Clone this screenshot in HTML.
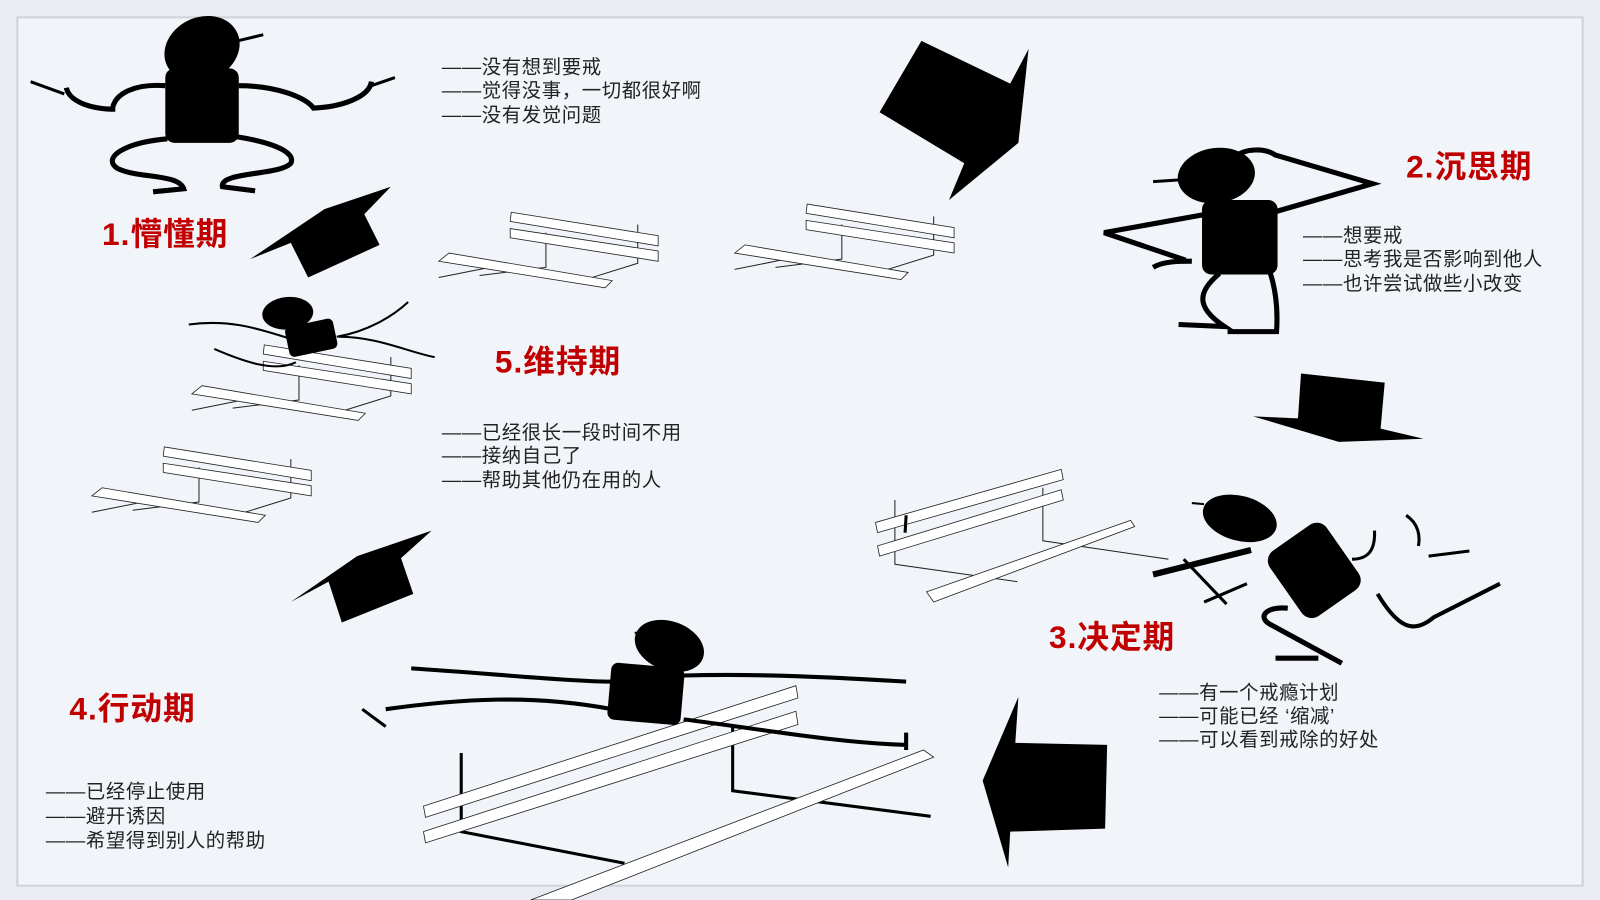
<!DOCTYPE html>
<html><head><meta charset="utf-8"><style>
html,body{margin:0;padding:0;width:1600px;height:900px;overflow:hidden;background:#e9edf3}
svg{display:block}
text{font-family:"Liberation Sans","Noto Sans CJK SC",sans-serif}
.t{font-size:19px;fill:#222;letter-spacing:0.6px}
.h{font-size:31px;font-weight:bold;fill:#c00000;letter-spacing:1px}
.b{fill:#fff;stroke:#222;stroke-width:0.8}
.l{stroke:#222;stroke-width:1;fill:none}
.k{stroke:#000;fill:none;stroke-linecap:butt}
</style></head><body>
<svg width="1600" height="900" viewBox="0 0 1568 882" preserveAspectRatio="none">
<rect x="0" y="0" width="1568" height="882" fill="#e9edf3"/>
<rect x="17" y="17" width="1534" height="851" fill="#f1f4f9" stroke="#cfd3da" stroke-width="2"/>

<!-- Figure 1 -->
<ellipse cx="198" cy="48" rx="38" ry="31" transform="rotate(-25 198 48)"/>
<line x1="233" y1="40" x2="258" y2="34" class="k" stroke-width="3"/>
<rect x="162" y="67" width="72" height="73" rx="9"/>
<path class="k" stroke-width="3" d="M30,80 L63,92"/>
<path class="k" stroke-width="5" d="M65,86 C68,100 90,107 113,107 M110,108 C112,90 135,82 162,84"/>
<path class="k" stroke-width="5" d="M234,84 C270,84 300,95 308,107 M306,106 C335,105 362,95 364,80"/>
<path class="k" stroke-width="3" d="M364,84 L387,76"/>
<path class="k" stroke-width="5" d="M164,136 C120,140 100,155 115,165 C135,175 175,170 180,185 L150,188"/>
<path class="k" stroke-width="5" d="M232,134 C270,140 290,150 285,160 C275,172 215,168 218,183 L250,187"/>

<text class="t" x="433" y="72">——没有想到要戒</text>
<text class="t" x="433" y="95">——觉得没事，一切都很好啊</text>
<text class="t" x="433" y="119">——没有发觉问题</text>
<text class="h" x="100" y="240">1.懵懂期</text>

<!-- hats / arrows -->
<polygon points="245,254 318,205 383,183 357,210 372,240 302,272 285,238"/>
<polygon points="862,110 903,40 990,82 1008,48 998,140 930,196 945,160"/>
<polygon points="1228,408 1272,410 1275,366 1357,375 1353,420 1395,430 1312,433"/>
<polygon points="285,590 350,545 423,520 393,547 405,582 335,610 322,570"/>
<polygon points="963,765 998,683 995,728 1085,730 1083,812 990,815 988,850"/>

<!-- Bench A -->
<g id="bA">
<path class="l" d="M625,220 L625,258 L580,272 M535,228 L535,262 L470,270 M430,272 L480,262"/>
<polygon class="b" points="501,208 645,231 645,241 500,217"/>
<polygon class="b" points="500,224 645,246 645,256 500,233"/>
<polygon class="b" points="440,248 600,275 593,282 430,256"/>
</g>
<use href="#bA" transform="translate(290,-8)"/>
<use href="#bA" transform="translate(-242,130)"/>
<use href="#bA" transform="translate(-340,230)"/>

<!-- Bench E -->
<path class="l" d="M877,490 L877,553 L997,570" stroke-width="2"/>
<path class="l" d="M1022,478 L1022,530 L1145,548" stroke-width="2"/>
<polygon class="b" points="858,512 1040,460 1042,470 860,522"/>
<polygon class="b" points="860,535 1040,480 1042,490 862,545"/>
<polygon class="b" points="908,580 1108,510 1112,516 915,590"/>
<line x1="888" y1="505" x2="887" y2="522" class="k" stroke-width="3"/>

<!-- Bench F -->
<path class="k" stroke-width="3" d="M452,738 L452,815 L612,846 M718,712 L718,775 L912,800"/>
<polygon class="b" points="415,790 780,672 782,684 417,801"/>
<polygon class="b" points="415,815 780,697 782,710 417,826"/>
<polygon class="b" points="520,882 905,735 915,742 560,882"/>

<!-- Figure 2 -->
<ellipse cx="1192" cy="172" rx="38" ry="27" transform="rotate(-8 1192 172)"/>
<line x1="1130" y1="178" x2="1160" y2="176" class="k" stroke-width="3"/>
<path class="k" stroke-width="5" d="M1210,154 C1220,145 1240,145 1250,152 L1345,180 L1248,208"/>
<rect x="1178" y="196" width="74" height="73" rx="9"/>
<path class="k" stroke-width="5" d="M1182,210 L1082,228 L1162,255 M1130,262 C1140,256 1155,256 1168,256"/>
<path class="k" stroke-width="5" d="M1195,268 C1175,285 1170,300 1200,320 L1155,318"/>
<path class="k" stroke-width="5" d="M1245,268 C1252,290 1252,310 1251,325 L1203,325"/>
<text class="h" x="1378" y="174">2.沉思期</text>
<text class="t" x="1277" y="237">——想要戒</text>
<text class="t" x="1277" y="260">——思考我是否影响到他人</text>
<text class="t" x="1277" y="284">——也许尝试做些小改变</text>

<!-- Figure 3 -->
<ellipse cx="1215" cy="508" rx="37" ry="22" transform="rotate(15 1215 508)"/>
<line x1="1168" y1="493" x2="1180" y2="494" class="k" stroke-width="2"/>
<rect x="1254" y="520" width="68" height="78" rx="12" transform="rotate(-35 1288 559)"/>
<path class="k" stroke-width="6" d="M1130,563 L1226,539"/>
<path class="k" stroke-width="3" d="M1160,548 L1202,592 M1180,590 L1222,572"/>
<path class="k" stroke-width="5" d="M1262,596 C1240,594 1232,605 1245,612 L1315,650 M1250,645 L1292,645"/>
<path class="k" stroke-width="3" d="M1347,520 C1348,540 1340,548 1325,548 M1378,505 C1390,513 1392,525 1390,535 M1400,545 L1440,540"/>
<path class="k" stroke-width="4" d="M1350,582 C1370,615 1385,622 1405,605 L1470,572"/>
<text class="h" x="1028" y="635">3.决定期</text>
<text class="t" x="1136" y="685">——有一个戒瘾计划</text>
<text class="t" x="1136" y="708">——可能已经 ‘缩减’</text>
<text class="t" x="1136" y="731">——可以看到戒除的好处</text>

<!-- Figure 5 -->
<ellipse cx="282" cy="307" rx="25" ry="16" transform="rotate(-5 282 307)"/>
<rect x="281" y="316" width="48" height="30" rx="5" transform="rotate(-12 305 331)"/>
<path class="k" stroke-width="2" d="M185,318 C230,312 260,325 285,332 M330,330 C360,325 385,310 400,296"/>
<path class="k" stroke-width="2" d="M210,342 C240,355 270,365 290,355 M332,330 C370,330 400,345 426,350"/>
<text class="h" x="485" y="365">5.维持期</text>
<text class="t" x="433" y="430">——已经很长一段时间不用</text>
<text class="t" x="433" y="453">——接纳自己了</text>
<text class="t" x="433" y="477">——帮助其他仍在用的人</text>

<!-- Figure 4 -->
<ellipse cx="656" cy="633" rx="35" ry="24" transform="rotate(20 656 633)"/>
<line x1="622" y1="620" x2="636" y2="622" class="k" stroke-width="2"/>
<rect x="597" y="652" width="72" height="56" rx="7" transform="rotate(5 633 680)"/>
<path class="k" stroke-width="4" d="M403,655 C480,660 560,668 600,668 M670,662 C750,660 820,664 888,668"/>
<path class="k" stroke-width="4" d="M378,695 C450,685 520,680 600,695 M670,705 C750,715 820,728 888,730 M888,718 L888,735"/>
<line x1="355" y1="695" x2="378" y2="712" class="k" stroke-width="3"/>
<text class="h" x="68" y="705">4.行动期</text>
<text class="t" x="45" y="782">——已经停止使用</text>
<text class="t" x="45" y="806">——避开诱因</text>
<text class="t" x="45" y="830">——希望得到别人的帮助</text>
</svg>
</body></html>
